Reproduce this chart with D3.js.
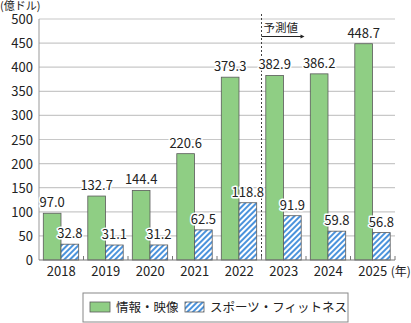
<!DOCTYPE html>
<html><head><meta charset="utf-8">
<script src="https://cdn.jsdelivr.net/npm/d3@7"></script>
<style>body{margin:0;background:#fff}svg{display:block}text{font-family:"Noto Sans CJK JP","Noto Sans",sans-serif}</style>
</head><body><svg id="c" width="411" height="323"></svg>
<script>
const years = ["2018","2019","2020","2021","2022","2023","2024","2025"];
const infoVideo = [97.0,132.7,144.4,220.6,379.3,382.9,386.2,448.7];
const sportsFitness = [32.8,31.1,31.2,62.5,118.8,91.9,59.8,56.8];
const yTicks = [0,50,100,150,200,250,300,350,400,450,500];
const seriesNames = ["情報・映像","スポーツ・フィットネス"];

const svg = d3.select("#c");
const L=39, R=395, T=19, B=260;
const x = d3.scaleBand().domain(years).range([L,R]).paddingInner(0).paddingOuter(0);
const y = d3.scaleLinear().domain([0,500]).range([B,T]);
const defs = svg.append("defs");
const pat = defs.append("pattern").attr("id","hatch").attr("patternUnits","userSpaceOnUse")
  .attr("width",4).attr("height",4).attr("patternTransform","rotate(45)");
pat.append("rect").attr("width",4).attr("height",4).attr("fill","#ffffff");
pat.append("rect").attr("width",2).attr("height",4).attr("fill","#4b93dc");

// gridlines
svg.append("g").selectAll("line").data(yTicks.filter(d=>d>0)).join("line")
  .attr("x1",L).attr("x2",R).attr("y1",d=>y(d)).attr("y2",d=>y(d))
  .attr("stroke","#c8c8c8").attr("stroke-width",1.2);

// y labels
svg.append("g").selectAll("text").data(yTicks).join("text")
  .attr("x",33).attr("y",d=>y(d)+5).attr("text-anchor","end")
  .attr("font-size",13).attr("fill","#222").text(d=>d);
svg.append("text").attr("x",0).attr("y",10).attr("font-size",11).attr("fill","#222").text("(億ドル)");

// forecast dashed line
const splitX = x("2023");
svg.append("line").attr("x1",splitX).attr("x2",splitX).attr("y1",14).attr("y2",B)
  .attr("stroke","#444").attr("stroke-dasharray","2,2").attr("stroke-width",1);
svg.append("text").attr("x",splitX+2).attr("y",32).attr("font-size",11.5).attr("fill","#222").text("予測値");
svg.append("line").attr("x1",splitX).attr("x2",splitX+40).attr("y1",36.5).attr("y2",36.5).attr("stroke","#222").attr("stroke-width",1);
svg.append("path").attr("d",`M${splitX+43},36.5 L${splitX+39},34.5 L${splitX+39},38.5 Z`).attr("fill","#222");

const bw = 17.7, off = 4.3;
const g = svg.append("g");
g.selectAll(".g1").data(years).join("rect")
  .attr("x",d=>x(d)+off).attr("width",bw)
  .attr("y",(d,i)=>y(infoVideo[i])).attr("height",(d,i)=>B-y(infoVideo[i]))
  .attr("fill","#8fce84").attr("stroke","#5a5a5a").attr("stroke-width",0.8);
g.selectAll(".g2").data(years).join("rect")
  .attr("x",d=>x(d)+off+bw).attr("width",bw)
  .attr("y",(d,i)=>y(sportsFitness[i])).attr("height",(d,i)=>B-y(sportsFitness[i]))
  .attr("fill","url(#hatch)").attr("stroke","#5a5a5a").attr("stroke-width",0.8);

// axes
svg.append("line").attr("x1",L).attr("x2",L).attr("y1",T).attr("y2",B).attr("stroke","#999");
svg.append("line").attr("x1",L).attr("x2",R).attr("y1",B).attr("y2",B).attr("stroke","#777").attr("stroke-width",1.2);
svg.append("g").selectAll("line").data(years.slice(1).concat(["end"])).join("line")
  .attr("x1",d=>d==="end"?R:x(d)).attr("x2",d=>d==="end"?R:x(d)).attr("y1",B).attr("y2",B-4)
  .attr("stroke","#777");

// value labels
function lab(vals, dx){
  svg.append("g").selectAll("text").data(years).join("text")
    .attr("x",d=>x(d)+off+dx).attr("y",(d,i)=>y(vals[i])-6).attr("text-anchor","middle")
    .attr("font-size",13).attr("fill","#222")
    .attr("stroke","#fff").attr("stroke-width",3).attr("paint-order","stroke").attr("stroke-linejoin","round")
    .text((d,i)=>vals[i].toFixed(1));
}
lab(infoVideo, bw/2);
lab(sportsFitness, bw*1.5);

// x labels
svg.append("g").selectAll("text").data(years).join("text")
  .attr("x",d=>x(d)+x.bandwidth()/2).attr("y",276).attr("text-anchor","middle")
  .attr("font-size",13).attr("fill","#222").text(d=>d);
svg.append("text").attr("x",x("2025")+x.bandwidth()/2+18).attr("y",276).attr("font-size",12).attr("fill","#222").text("(年)");

// legend
svg.append("rect").attr("x",83).attr("y",293).attr("width",265).attr("height",29)
  .attr("fill","#fff").attr("stroke","#888");
svg.append("rect").attr("x",90).attr("y",302).attr("width",20).attr("height",10).attr("fill","#8fce84").attr("stroke","#5a5a5a").attr("stroke-width",0.8);
svg.append("text").attr("x",116).attr("y",312).attr("font-size",12.5).attr("fill","#222").text(seriesNames[0]);
svg.append("rect").attr("x",185).attr("y",302).attr("width",19).attr("height",10).attr("fill","url(#hatch)").attr("stroke","#5a5a5a").attr("stroke-width",0.8);
svg.append("text").attr("x",210).attr("y",312).attr("font-size",12.5).attr("fill","#222").text(seriesNames[1]);
</script></body></html>
